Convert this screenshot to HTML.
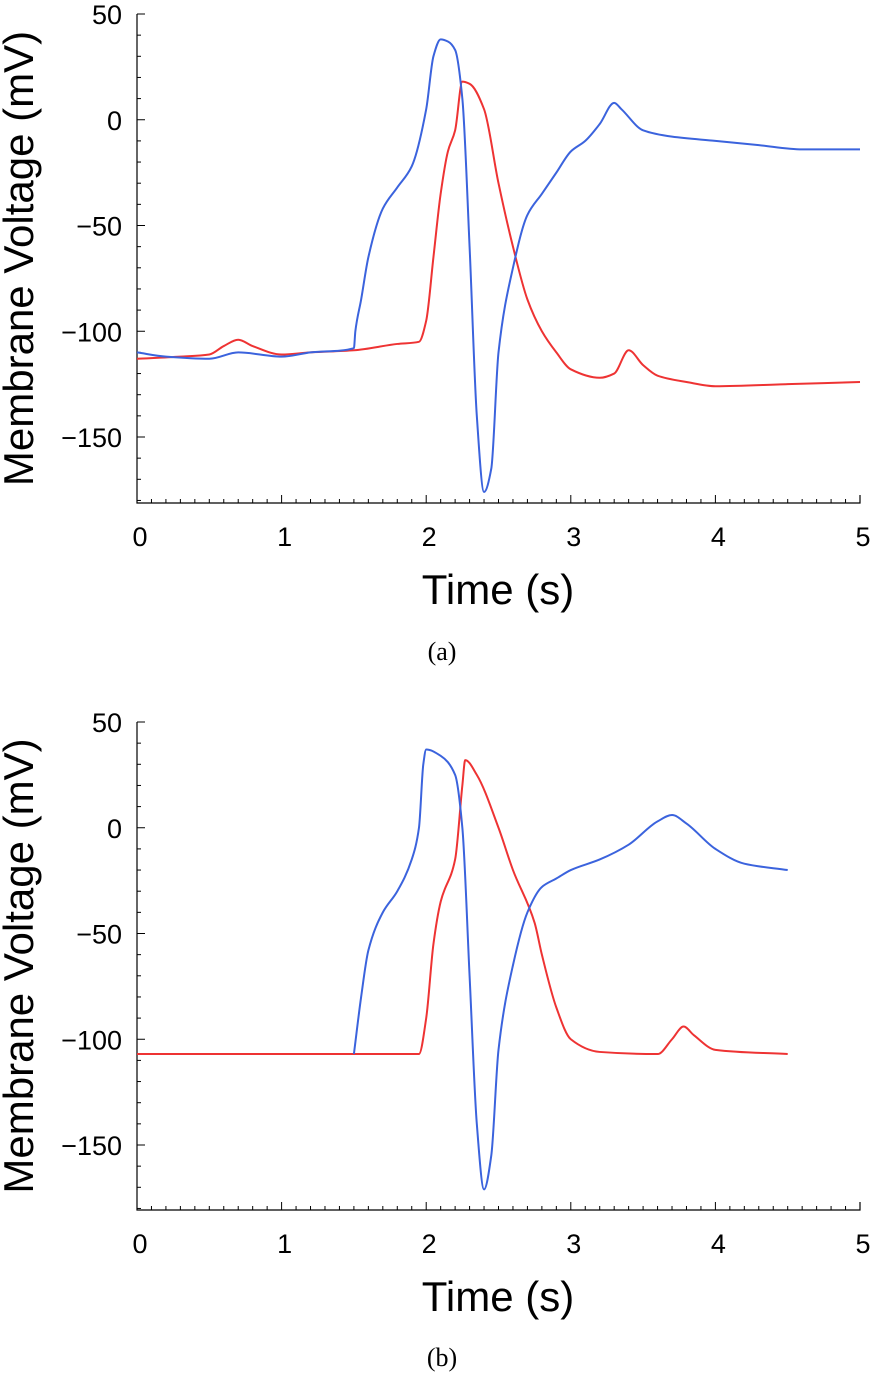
<!DOCTYPE html>
<html><head><meta charset="utf-8"><style>
body{margin:0;background:#fff}
svg text{font-family:"Liberation Sans",sans-serif;fill:#000}
</style></head><body>
<svg width="873" height="1375" id="fig"></svg>
<script>
const xTicks=[0,1,2,3,4,5];
const yTicks=[50,0,-50,-100,-150];
const aBlueT=[0,0.2,0.5,0.7,1.0,1.2,1.5,1.51,1.55,1.6,1.7,1.8,1.9,2.0,2.05,2.1,2.15,2.2,2.25,2.3,2.35,2.4,2.45,2.5,2.6,2.7,2.8,2.9,3.0,3.1,3.2,3.3,3.35,3.5,3.7,4.0,4.3,4.6,5.0];
const aBlueV=[-110,-112,-113,-110,-112,-110,-108,-100,-85,-65,-42,-32,-22,5,30,38,37,33,10,-60,-140,-176,-165,-110,-70,-45,-35,-25,-15,-10,-2,8,5,-5,-8,-10,-12,-14,-14];
const aRedT=[0,0.3,0.5,0.6,0.7,0.8,1.0,1.2,1.5,1.8,1.95,2.0,2.05,2.1,2.15,2.2,2.25,2.3,2.4,2.5,2.6,2.7,2.8,2.9,3.0,3.2,3.3,3.4,3.5,3.6,3.8,4.0,4.5,5.0];
const aRedV=[-113,-112,-111,-107,-104,-107,-111,-110,-109,-106,-105,-95,-65,-35,-15,-5,18,17,5,-30,-60,-85,-100,-110,-118,-122,-120,-109,-116,-121,-124,-126,-125,-124];
const bBlueT=[1.5,1.55,1.6,1.7,1.8,1.9,1.95,1.98,2.0,2.1,2.2,2.25,2.3,2.35,2.4,2.45,2.5,2.6,2.7,2.8,2.9,3.0,3.2,3.4,3.6,3.7,3.8,4.0,4.2,4.5];
const bBlueV=[-107,-80,-58,-40,-30,-15,0,30,37,34,25,0,-70,-140,-171,-155,-105,-65,-40,-28,-24,-20,-15,-8,3,6,2,-10,-17,-20];
const bRedT=[0,1.95,2.0,2.05,2.1,2.2,2.25,2.27,2.35,2.5,2.6,2.75,2.8,2.9,3.0,3.2,3.6,3.7,3.78,3.85,4.0,4.5];
const bRedV=[-107,-107,-90,-55,-35,-15,20,32,25,0,-20,-45,-60,-85,-100,-106,-107,-100,-94,-98,-105,-107];

const svg=document.getElementById('fig');
const NS='http://www.w3.org/2000/svg';
function mk(t,a,p){const e=document.createElementNS(NS,t);for(const k in a)e.setAttribute(k,a[k]);(p||svg).appendChild(e);return e;}
function monotone(pts){
  const n=pts.length, dx=[], s=[], m=[];
  for(let i=0;i<n-1;i++){dx[i]=pts[i+1][0]-pts[i][0];s[i]=(pts[i+1][1]-pts[i][1])/dx[i];}
  m[0]=s[0];m[n-1]=s[n-2];
  for(let i=1;i<n-1;i++){ if(s[i-1]*s[i]<=0)m[i]=0; else m[i]=3*(dx[i-1]+dx[i])/((2*dx[i]+dx[i-1])/s[i-1]+(dx[i]+2*dx[i-1])/s[i]); }
  let d='M'+pts[0][0]+','+pts[0][1];
  for(let i=0;i<n-1;i++){
    const h=dx[i]/3;
    d+=` C${pts[i][0]+h},${pts[i][1]+m[i]*h} ${pts[i+1][0]-h},${pts[i+1][1]-m[i+1]*h} ${pts[i+1][0]},${pts[i+1][1]}`;
  }
  return d;
}
function panel(id,y50,bottom,caption,capY,series){
  const g=mk('g',{});
  
  
  const X=t=>137+t*144.6, Y=v=>y50+(50-v)*2.115;
  const axes=mk('path',{d:`M137,${y50} V${bottom} H860 V${bottom-8}`,stroke:'#000','stroke-width':1.2,fill:'none'},g);
  
  
  for(let v=50;v>=-180;v-=10){const maj=v%50===0;mk('line',{x1:137,x2:137+(maj?8:4),y1:Y(v),y2:Y(v),stroke:'#000','stroke-width':1},g);}
  for(let t=0;t<=5.001;t+=0.1){const maj=Math.abs(t-Math.round(t))<1e-6;mk('line',{x1:X(t),x2:X(t),y1:bottom,y2:bottom-(maj?8:4),stroke:'#000','stroke-width':1},g);}
  yTicks.forEach(v=>{const e=mk('text',{x:122,y:Y(v)+10,'text-anchor':'end','font-size':27},g);e.textContent=v<0?'\u2212'+(-v):v;
    });
  xTicks.forEach(t=>{const e=mk('text',{x:X(t)+3,y:bottom+43,'text-anchor':'middle','font-size':27},g);e.textContent=t;
    });
  const xt=mk('text',{x:498,y:bottom+101,'text-anchor':'middle','font-size':42},g);xt.textContent='Time (s)';
  
  const cy=(y50+bottom)/2;
  const yt=mk('text',{x:0,y:0,'text-anchor':'middle','font-size':42,transform:`translate(33,${cy}) rotate(-90)`},g);yt.textContent='Membrane Voltage (mV)';
  
  series.forEach(([T,V,c,n])=>{const p=mk('path',{d:monotone(T.map((t,i)=>[X(t),Y(V[i])])),fill:'none',stroke:c,'stroke-width':2,'stroke-linejoin':'round'},g);
    });
  const cap=mk('text',{x:442,y:capY,'text-anchor':'middle','font-size':26,style:'font-family:"Liberation Serif",serif'},g);cap.textContent=caption;
  
}
panel('a',14,503,'(a)',660,[[aRedT,aRedV,'#ee3333','red-trace'],[aBlueT,aBlueV,'#3b63dd','blue-trace']]);
panel('b',722,1210,'(b)',1366,[[bRedT,bRedV,'#ee3333','red-trace'],[bBlueT,bBlueV,'#3b63dd','blue-trace']]);
</script>
</body></html>
